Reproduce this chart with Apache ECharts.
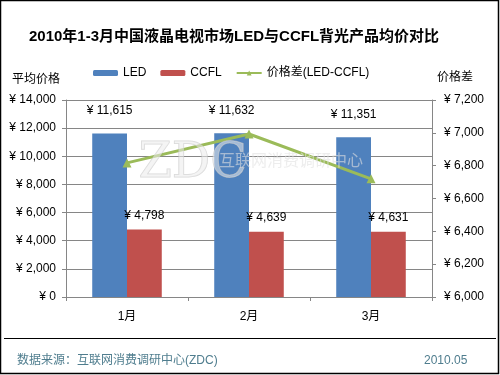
<!DOCTYPE html>
<html>
<head>
<meta charset="utf-8">
<script src="https://cdn.jsdelivr.net/npm/echarts@6/dist/echarts.min.js"></script>
<style>
  html, body { margin: 0; padding: 0; background: #fff; }
  #chart { width: 500px; height: 375px; }
</style>
</head>
<body>
<div id="chart"></div>
<script>
// 数据
const months = ["1月", "2月", "3月"];
const ledPrices = [11615, 11632, 11351];
const ccflPrices = [4798, 4639, 4631];
const priceGap = [6817, 6993, 6720];

const FONT = "'Liberation Sans', 'Noto Sans CJK SC', sans-serif";
const AXIS_GRAY = "#868686";

function yuan(v) {
  return "¥ " + Number(v).toLocaleString("en-US");
}

const chart = echarts.init(document.getElementById("chart"));

chart.setOption({
  animation: false,
  textStyle: { fontFamily: FONT },
  title: {
    text: "2010年1-3月中国液晶电视市场LED与CCFL背光产品均价对比",
    left: 24,
    top: 24,
    textStyle: { fontSize: 15, fontWeight: "bold", color: "#000", fontFamily: FONT },
  },
  legend: {
    left: 88,
    top: 62,
    itemWidth: 25,
    itemHeight: 6,
    itemGap: 14,
    textStyle: { fontSize: 12, color: "#000", fontFamily: FONT },
    data: ["LED", "CCFL", "价格差(LED-CCFL)"],
  },
  grid: { left: 66, right: 68, top: 100, bottom: 78 },
  xAxis: {
    type: "category",
    data: months,
    axisLine: { lineStyle: { color: AXIS_GRAY } },
    axisTick: { show: true, length: 4, lineStyle: { color: AXIS_GRAY } },
    axisLabel: { color: "#000", fontSize: 12, margin: 14 },
  },
  yAxis: [
    {
      type: "value",
      name: "平均价格",
      nameLocation: "end",
      nameGap: 14,
      nameTextStyle: { color: "#000", fontSize: 12, align: "right", padding: [0, 6, 0, 0] },
      min: 0,
      max: 14000,
      interval: 2000,
      axisLine: { show: true, lineStyle: { color: AXIS_GRAY } },
      axisTick: { show: true, length: 4, lineStyle: { color: AXIS_GRAY } },
      axisLabel: { color: "#000", fontSize: 12, margin: 10, formatter: yuan },
      splitLine: { lineStyle: { color: AXIS_GRAY } },
    },
    {
      type: "value",
      name: "价格差",
      nameLocation: "end",
      nameGap: 16,
      nameTextStyle: { color: "#000", fontSize: 12, align: "left", padding: [0, 0, 0, 5] },
      min: 6000,
      max: 7200,
      interval: 200,
      axisLine: { show: true, lineStyle: { color: AXIS_GRAY } },
      axisTick: { show: true, length: 4, lineStyle: { color: AXIS_GRAY } },
      axisLabel: { color: "#000", fontSize: 12, margin: 12, formatter: yuan },
      splitLine: { show: false },
    },
  ],
  series: [
    {
      name: "LED",
      type: "bar",
      data: ledPrices,
      barGap: "0%",
      barCategoryGap: "43%",
      itemStyle: { color: "#4F81BD" },
      label: {
        show: true,
        position: "top",
        distance: 17,
        color: "#000",
        fontSize: 12,
        formatter: (p) => yuan(p.value),
      },
    },
    {
      name: "CCFL",
      type: "bar",
      data: ccflPrices,
      itemStyle: { color: "#C0504D" },
      label: {
        show: true,
        position: "top",
        distance: 8,
        color: "#000",
        fontSize: 12,
        formatter: (p) => yuan(p.value),
      },
    },
    {
      name: "价格差(LED-CCFL)",
      type: "line",
      yAxisIndex: 1,
      data: priceGap,
      symbol: "triangle",
      symbolSize: 9,
      lineStyle: { color: "#9BBB59", width: 3 },
      itemStyle: { color: "#9BBB59" },
      z: 5,
    },
  ],
  graphic: [
    // 水印
    {
      type: "text",
      left: 138,
      top: 140,
      z: 10,
      silent: true,
      style: {
        text: "ZDC",
        font: "48px 'DejaVu Serif', serif",
        fill: "rgba(235,235,235,0.55)",
        stroke: "rgba(190,190,190,0.6)",
        lineWidth: 1,
      },
    },
    {
      type: "text",
      left: 219,
      top: 152,
      z: 10,
      silent: true,
      style: {
        text: "互联网消费调研中心",
        font: "16px 'Noto Sans CJK SC', sans-serif",
        fill: "rgba(225,225,225,0.6)",
      },
    },
    // 外框与底部分隔线
    {
      type: "rect",
      shape: { x: 0.5, y: 0.5, width: 498, height: 373 },
      style: { fill: "none", stroke: "#000", lineWidth: 1.5 },
      silent: true,
    },
    {
      type: "line",
      shape: { x1: 4, y1: 338.5, x2: 496, y2: 338.5 },
      style: { stroke: "#000", lineWidth: 1 },
      silent: true,
    },
    {
      type: "text",
      left: 17,
      top: 355,
      style: {
        text: "数据来源：互联网消费调研中心(ZDC)",
        font: "12px 'Liberation Sans', 'Noto Sans CJK SC', sans-serif",
        fill: "#4F7D8E",
      },
    },
    {
      type: "text",
      left: 424,
      top: 355,
      style: {
        text: "2010.05",
        font: "12px 'Liberation Sans', sans-serif",
        fill: "#4F7D8E",
      },
    },
  ],
});
</script>
</body>
</html>
